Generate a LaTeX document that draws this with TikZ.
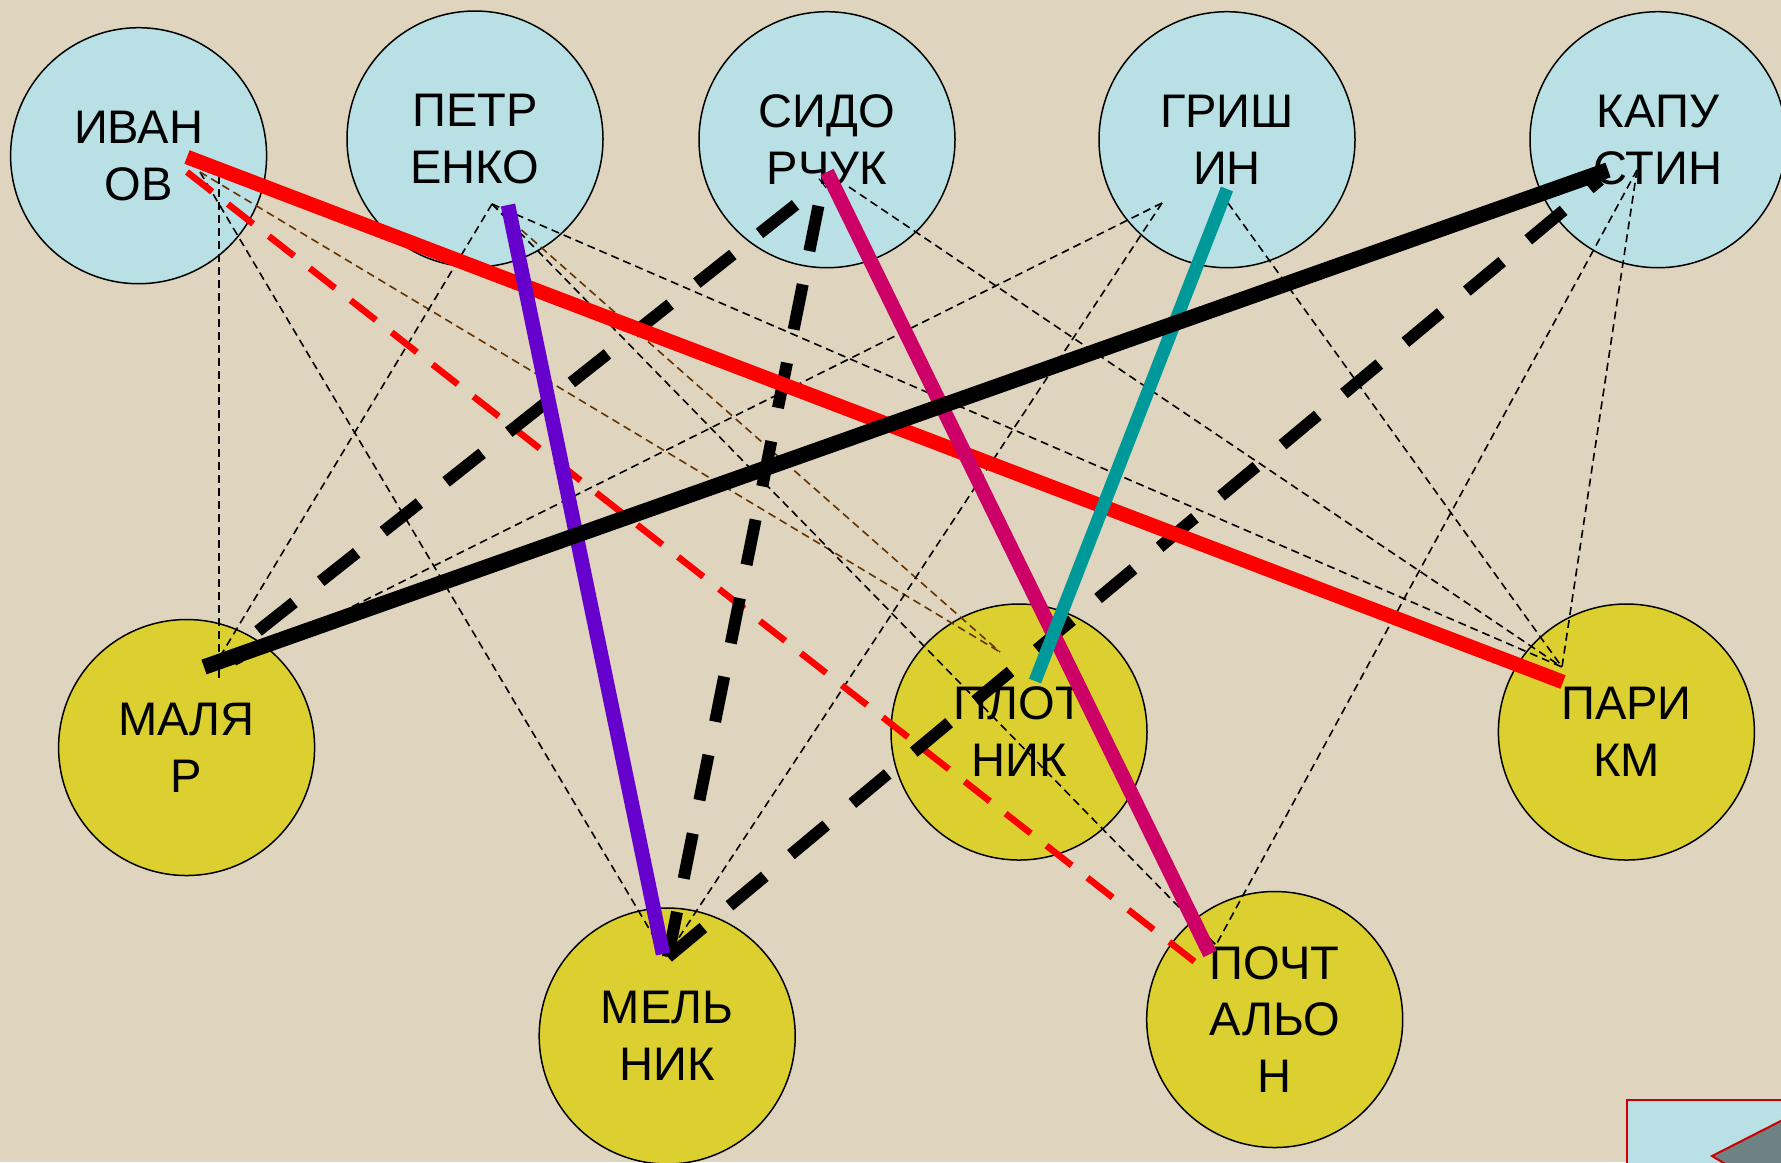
\documentclass[tikz,border=0pt]{standalone}
\usepackage{fontspec}
\setmainfont{Liberation Sans}
\usetikzlibrary{calc}
\definecolor{canvas}{RGB}{223,212,189}
\definecolor{sky}{RGB}{185,224,228}
\definecolor{mustard}{RGB}{219,208,48}
\definecolor{linkplum}{RGB}{204,0,102}
\definecolor{linkviolet}{RGB}{102,0,204}
\definecolor{linkteal}{RGB}{0,153,153}
\definecolor{linkbrown}{RGB}{102,51,0}
\definecolor{btnred}{RGB}{204,0,0}
\definecolor{btngray}{RGB}{110,130,132}
\tikzset{
	person/.style={circle, draw, line width=0.015cm, fill=sky, minimum size=2.56cm, inner sep=0pt, align=center, font=\fontsize{13.4}{16.2}\selectfont},
	job/.style={person, fill=mustard},
	tie/.style={line width=0.016cm, dash pattern=on 0.08cm off 0.05cm},
	fat/.style={line width=0.145cm},
	fatdash/.style={line width=0.12cm, dash pattern=on 0.46cm off 0.34cm},
	thindash/.style={line width=0.065cm, dash pattern=on 0.32cm off 0.2cm}
}

\begin{document}
\begin{tikzpicture}
			%%%%% START %%%%%
			
			\useasboundingbox (0,0) rectangle (17.81,-11.62);
			\clip (0,0) rectangle (17.81,-11.62);
			\fill[canvas] (0,0) rectangle (17.81,-11.62);
			
			\node[person] (ivanov) at (1.386,-1.557) {ИВАН\\ОВ};
			\node[person] (petrenko) at (4.75,-1.39) {ПЕТР\\ЕНКО};
			\node[person] (sidorchuk) at (8.27,-1.397) {СИДО\\РЧУК};
			\node[person] (grishin) at (12.27,-1.397) {ГРИШ\\ИН};
			\node[person] (kapustin) at (16.58,-1.397) {КАПУ\\СТИН};
			
			\node[job] (malyar) at (1.866,-7.475) {МАЛЯ\\Р};
			\node[job] (melnik) at (6.672,-10.36) {МЕЛЬ\\НИК};
			\node[job] (plotnik) at (10.19,-7.32) {ПЛОТ\\НИК};
			\node[job] (parikm) at (16.264,-7.32) {ПАРИ\\КМ};
			\node[job] (pochtalon) at (12.747,-10.195) {ПОЧТ\\АЛЬО\\Н};
			
			\coordinate (ivR) at (1.87,-1.57);
			\coordinate (ivRd) at (1.87,-1.72);
			\coordinate (ivT) at (2.00,-1.72);
			\coordinate (ivV) at (2.19,-1.76);
			\coordinate (peP) at (5.08,-2.05);
			\coordinate (peT) at (4.92,-2.04);
			\coordinate (siM) at (8.27,-1.72);
			\coordinate (siD) at (8.23,-1.83);
			\coordinate (siT) at (8.49,-1.87);
			\coordinate (grC) at (12.27,-1.89);
			\coordinate (grL) at (11.62,-2.03);
			\coordinate (grR) at (12.28,-2.03);
			\coordinate (kaB) at (16.08,-1.70);
			\coordinate (kaD) at (16.00,-1.80);
			\coordinate (kaT) at (16.37,-1.70);
			
			\coordinate (maB) at (2.04,-6.67);
			\coordinate (maD) at (2.58,-6.31);
			\coordinate (maV) at (2.19,-6.82);
			\coordinate (maP) at (2.21,-6.55);
			\coordinate (maG) at (2.33,-6.66);
			\coordinate (meP) at (6.63,-9.54);
			\coordinate (meD) at (6.68,-9.57);
			\coordinate (meI) at (6.57,-9.42);
			\coordinate (meG) at (6.76,-9.42);
			\coordinate (plB) at (10.00,-6.52);
			\coordinate (plC) at (10.35,-6.81);
			\coordinate (paR) at (15.63,-6.82);
			\coordinate (paT) at (15.62,-6.67);
			\coordinate (poM) at (12.10,-9.54);
			\coordinate (poRd) at (12.09,-9.73);
			\coordinate (poT) at (12.16,-9.45);
			
			\draw[tie] (ivV) -- (maV);
			\draw[tie] (ivT) -- (meI);
			\draw[tie, color=linkbrown] (ivT) -- (plB);
			\draw[tie] (peT) -- (maP);
			\draw[tie, color=linkbrown] (peT) -- (plB);
			\draw[tie] (peT) -- (poT);
			\draw[tie] (peT) -- (paT);
			\draw[tie] (siT) -- (paT);
			\draw[tie] (grL) -- (maG);
			\draw[tie] (grL) -- (meG);
			\draw[tie] (grR) -- (paT);
			\draw[tie] (kaT) -- (poT);
			\draw[tie] (kaT) -- (paT);
			
			\draw[thindash, color=red] (ivRd) -- (poRd);
			\draw[fatdash] (maD) -- (siD);
			\draw[fatdash] (meD) -- (siD);
			\draw[fatdash] (meD) -- (kaD);
			
			\draw[fat, color=red] (ivR) -- (paR);
			\draw[fat, color=linkviolet] (peP) -- (meP);
			\draw[fat, color=linkplum] (siM) -- (poM);
			\draw[fat, line width=0.13cm, color=linkteal] (grC) -- (plC);
			\draw[fat, line width=0.155cm] (maB) -- (kaB);
			
			\draw[line width=0.02cm, draw=btnred, fill=sky] (16.27,-11.00) rectangle (18.2,-12.2);
			\draw[line width=0.02cm, draw=btnred, fill=btngray] (17.12,-11.56) -- (18.2,-11.01) -- (18.2,-12.2) -- cycle;
			
			%%%%% END %%%%%
		\end{tikzpicture}
\end{document}
